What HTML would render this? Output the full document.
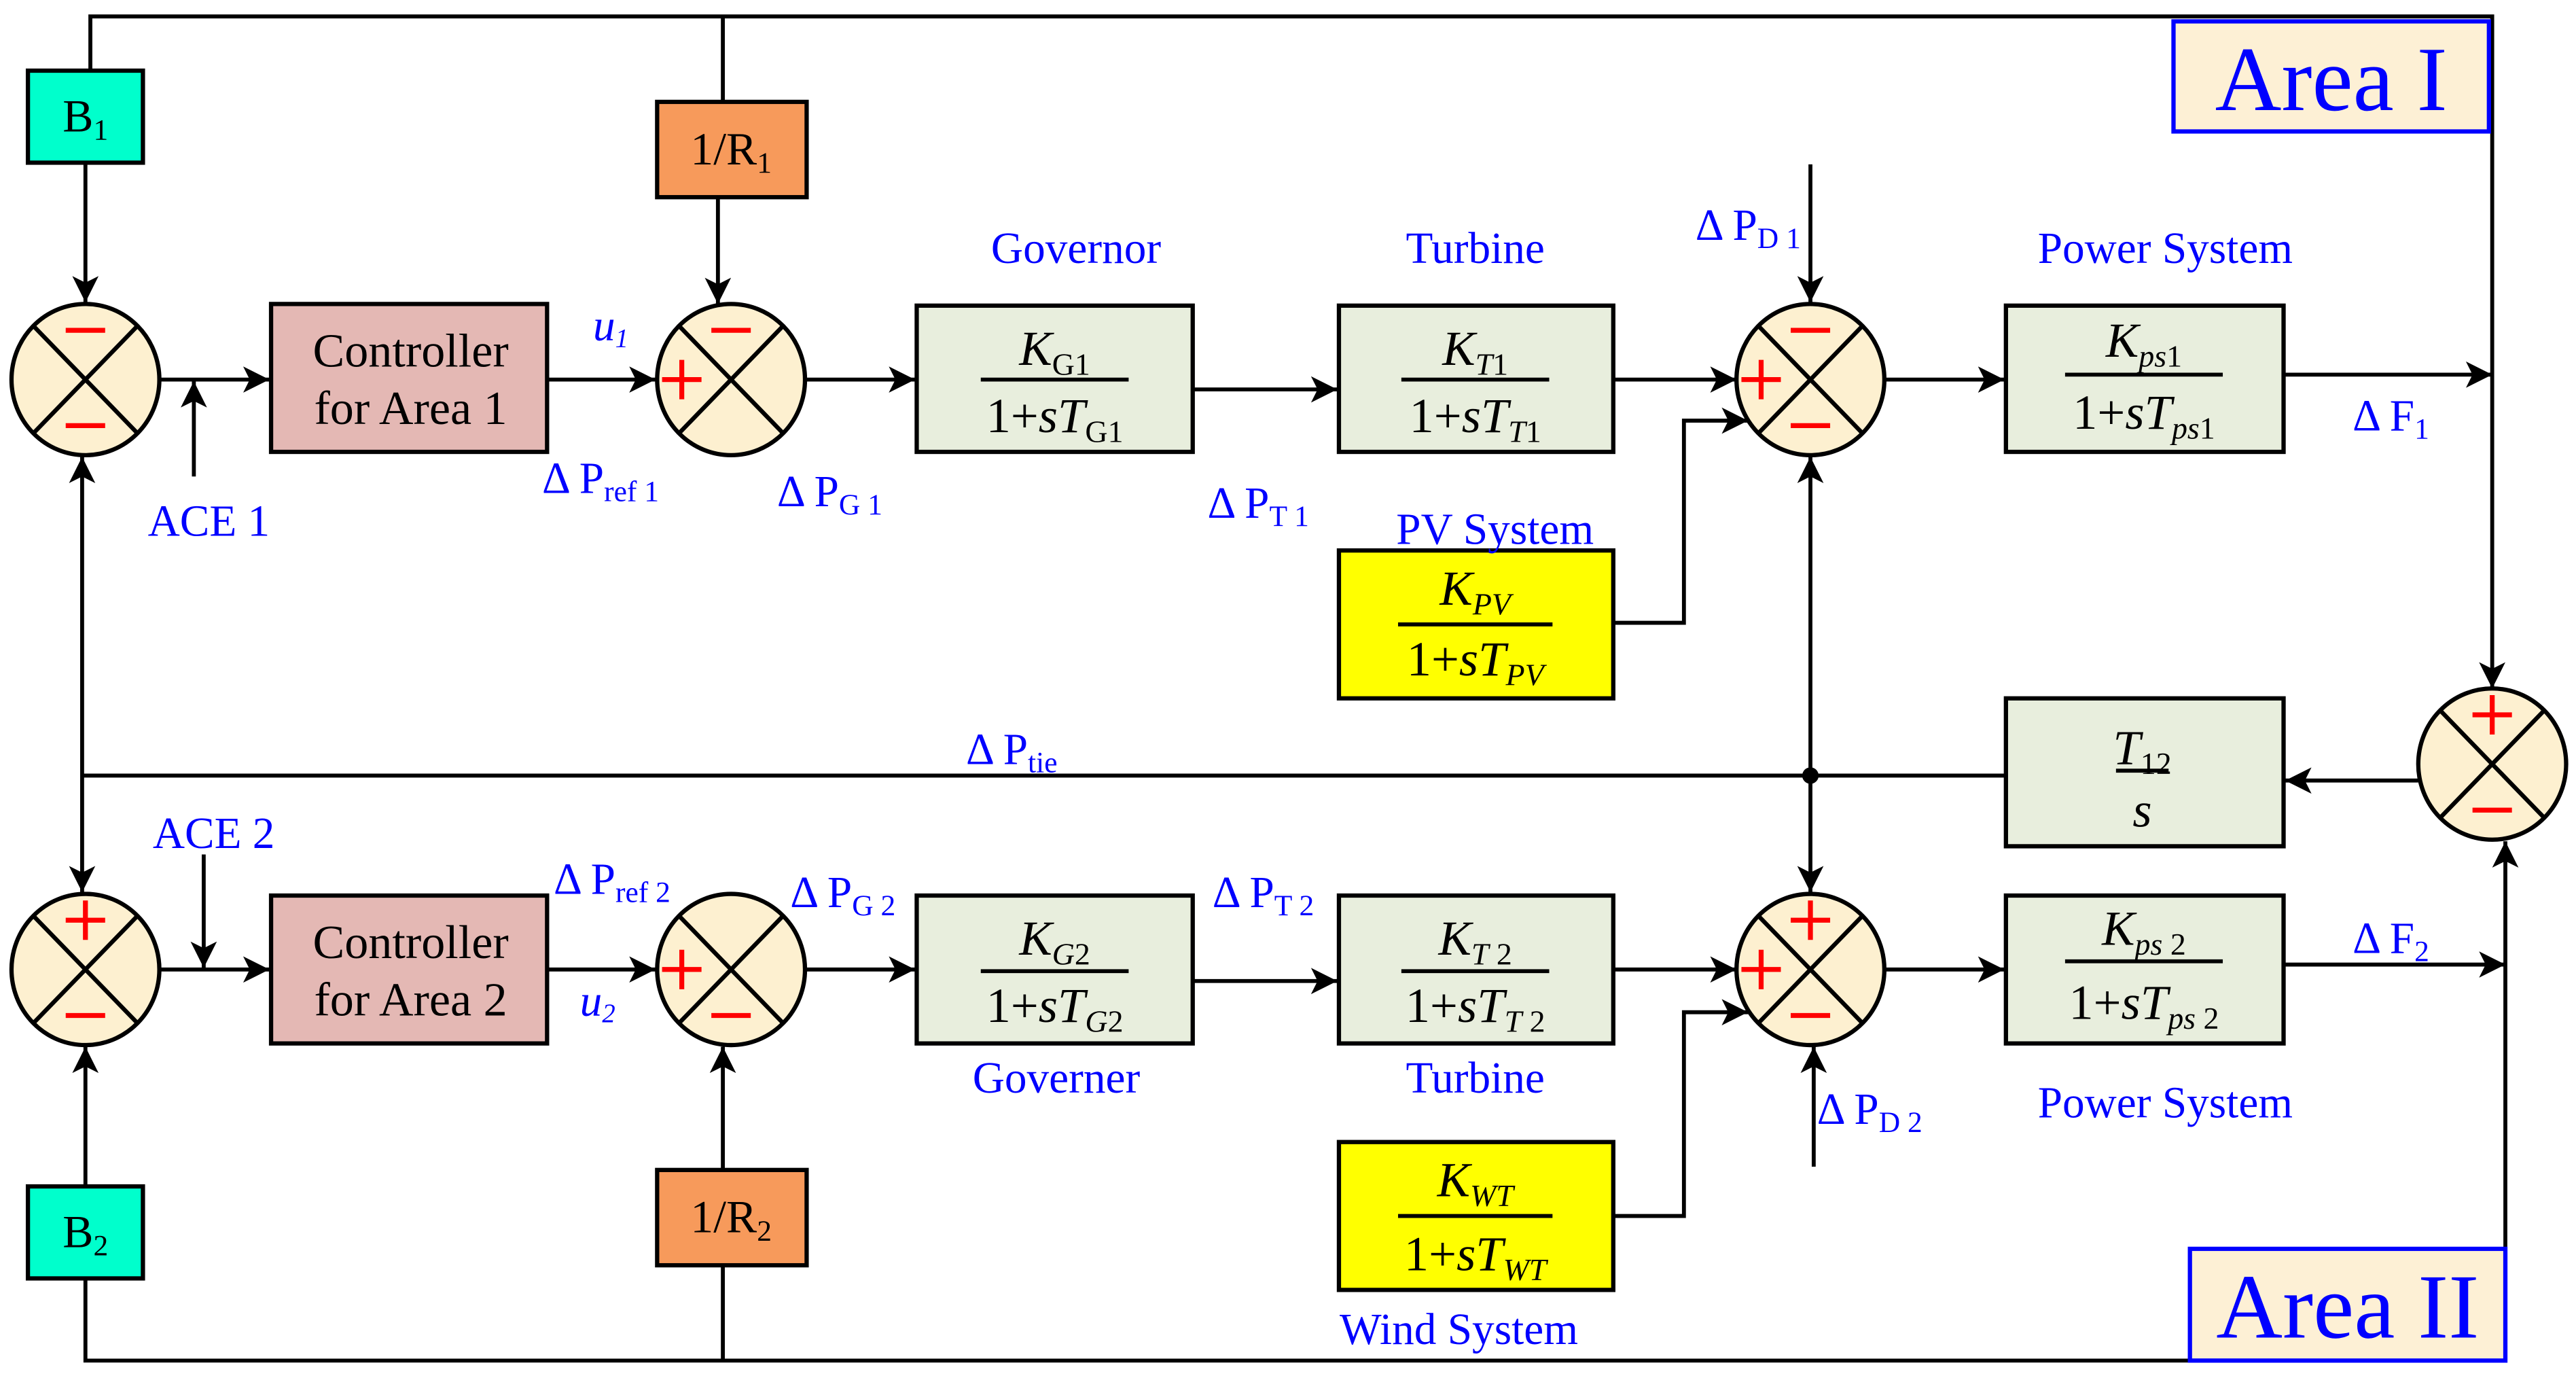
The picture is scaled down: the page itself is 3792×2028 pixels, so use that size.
<!DOCTYPE html>
<html><head><meta charset="utf-8"><style>
html,body{margin:0;padding:0;background:#fff;}
svg{display:block;}
text{font-family:"Liberation Serif",serif;}
.lb{fill:#0000ff;font-size:27px;}
.bx{stroke:#000;stroke-width:2.6;}
.ln{stroke:#000;stroke-width:2.4;fill:none;}
.mt{font-size:30px;fill:#000;}
</style></head><body>
<svg width="3792" height="2028" viewBox="0 0 1568 838.6" preserveAspectRatio="none" xmlns="http://www.w3.org/2000/svg">
<defs>
<marker id="a" markerUnits="userSpaceOnUse" markerWidth="18" markerHeight="16" refX="16" refY="8" orient="auto">
<path d="M0,0 L16,8 L0,16 L4,8 Z" fill="#000"/></marker>
<g id="sum"><ellipse cx="0" cy="0" rx="45" ry="46" fill="#fdf0d0" stroke="#000" stroke-width="2.6"/>
<line x1="-32" y1="-33" x2="32" y2="33" stroke="#000" stroke-width="2.6"/>
<line x1="32" y1="-33" x2="-32" y2="33" stroke="#000" stroke-width="2.6"/></g>
<g id="mT"><line x1="-12" y1="-30" x2="12" y2="-30" stroke="#f00" stroke-width="3"/></g>
<g id="mB"><line x1="-12" y1="28" x2="12" y2="28" stroke="#f00" stroke-width="3"/></g>
<g id="pT"><line x1="-12" y1="-30" x2="12" y2="-30" stroke="#f00" stroke-width="3"/><line x1="0" y1="-42" x2="0" y2="-18" stroke="#f00" stroke-width="3"/></g>
<g id="pL"><line x1="-42" y1="0" x2="-18" y2="0" stroke="#f00" stroke-width="3"/><line x1="-30" y1="-12" x2="-30" y2="12" stroke="#f00" stroke-width="3"/></g>
</defs>

<path class="ln" d="M55,43 V10 H1517 V419" marker-end="url(#a)"/>
<path class="ln" d="M440,10 V62"/>
<path class="ln" d="M52,99 V184" marker-end="url(#a)"/>
<path class="ln" d="M97,231 H164" marker-end="url(#a)"/>
<path class="ln" d="M118,290 V232" marker-end="url(#a)"/>
<path class="ln" d="M333,231 H399" marker-end="url(#a)"/>
<path class="ln" d="M437,120 V185" marker-end="url(#a)"/>
<path class="ln" d="M490,231 H557" marker-end="url(#a)"/>
<path class="ln" d="M726,237 H814" marker-end="url(#a)"/>
<path class="ln" d="M982,231 H1057" marker-end="url(#a)"/>
<path class="ln" d="M1102,100 V184" marker-end="url(#a)"/>
<path class="ln" d="M982,379 H1025 V256 H1064" marker-end="url(#a)"/>
<path class="ln" d="M1147,231 H1220" marker-end="url(#a)"/>
<path class="ln" d="M1390,228 H1517" marker-end="url(#a)"/>
<path class="ln" d="M1472,475 H1391" marker-end="url(#a)"/>
<path class="ln" d="M1221,472 H50"/>
<path class="ln" d="M50,472 V278" marker-end="url(#a)"/>
<path class="ln" d="M50,472 V543" marker-end="url(#a)"/>
<path class="ln" d="M1102,472 V278" marker-end="url(#a)"/>
<path class="ln" d="M1102,472 V543" marker-end="url(#a)"/>
<circle cx="1102" cy="472" r="5" fill="#000"/>
<path class="ln" d="M97,590 H164" marker-end="url(#a)"/>
<path class="ln" d="M124,520 V589" marker-end="url(#a)"/>
<path class="ln" d="M333,590 H399" marker-end="url(#a)"/>
<path class="ln" d="M440,712 V637" marker-end="url(#a)"/>
<path class="ln" d="M490,590 H557" marker-end="url(#a)"/>
<path class="ln" d="M726,597 H814" marker-end="url(#a)"/>
<path class="ln" d="M982,590 H1057" marker-end="url(#a)"/>
<path class="ln" d="M982,740 H1025 V616 H1064" marker-end="url(#a)"/>
<path class="ln" d="M1104,710 V637" marker-end="url(#a)"/>
<path class="ln" d="M1147,590 H1220" marker-end="url(#a)"/>
<path class="ln" d="M1390,587 H1525" marker-end="url(#a)"/>
<path class="ln" d="M1525,828 V512" marker-end="url(#a)"/>
<path class="ln" d="M52,722 V637" marker-end="url(#a)"/>
<path class="ln" d="M52,778 V828 H1525"/>
<path class="ln" d="M440,770 V828"/>

<use href="#sum" x="52" y="231"/><use href="#mT" x="52" y="231"/><use href="#mB" x="52" y="231"/>
<use href="#sum" x="445" y="231"/><use href="#mT" x="445" y="231"/><use href="#pL" x="445" y="231"/>
<use href="#sum" x="1102" y="231"/><use href="#mT" x="1102" y="231"/><use href="#pL" x="1102" y="231"/><use href="#mB" x="1102" y="231"/>
<use href="#sum" x="1517" y="465"/><use href="#pT" x="1517" y="465"/><use href="#mB" x="1517" y="465"/>
<use href="#sum" x="52" y="590"/><use href="#pT" x="52" y="590"/><use href="#mB" x="52" y="590"/>
<use href="#sum" x="445" y="590"/><use href="#pL" x="445" y="590"/><use href="#mB" x="445" y="590"/>
<use href="#sum" x="1102" y="590"/><use href="#pT" x="1102" y="590"/><use href="#pL" x="1102" y="590"/><use href="#mB" x="1102" y="590"/>

<rect class="bx" x="17" y="43" width="70" height="56" fill="#00ffcc"/>
<text x="52" y="80" text-anchor="middle" font-size="28">B<tspan font-size="18" dy="5">1</tspan></text>
<rect class="bx" x="17" y="722" width="70" height="56" fill="#00ffcc"/>
<text x="52" y="759" text-anchor="middle" font-size="28">B<tspan font-size="18" dy="5">2</tspan></text>
<rect class="bx" x="400" y="62" width="91" height="58" fill="#f79a5b"/>
<text x="445" y="100" text-anchor="middle" font-size="28">1/R<tspan font-size="18" dy="5">1</tspan></text>
<rect class="bx" x="400" y="712" width="91" height="58" fill="#f79a5b"/>
<text x="445" y="750" text-anchor="middle" font-size="28">1/R<tspan font-size="18" dy="5">2</tspan></text>

<rect class="bx" x="165" y="185" width="168" height="90" fill="#e4b8b4"/>
<text x="250" y="223" text-anchor="middle" font-size="29">Controller</text>
<text x="250" y="258" text-anchor="middle" font-size="29">for Area 1</text>
<rect class="bx" x="165" y="545" width="168" height="90" fill="#e4b8b4"/>
<text x="250" y="583" text-anchor="middle" font-size="29">Controller</text>
<text x="250" y="618" text-anchor="middle" font-size="29">for Area 2</text>

<g fill="#e8eedd">
<rect class="bx" x="558" y="186" width="168" height="89"/>
<rect class="bx" x="815" y="186" width="167" height="89"/>
<rect class="bx" x="1221" y="186" width="169" height="89"/>
<rect class="bx" x="1221" y="425" width="169" height="90"/>
<rect class="bx" x="558" y="545" width="168" height="90"/>
<rect class="bx" x="815" y="545" width="167" height="90"/>
<rect class="bx" x="1221" y="545" width="169" height="90"/>
</g>
<rect class="bx" x="815" y="335" width="167" height="90" fill="#ffff00"/>
<rect class="bx" x="815" y="695" width="167" height="90" fill="#ffff00"/>

<g class="mt" text-anchor="middle">
<text x="642" y="222"><tspan font-style="italic">K</tspan><tspan font-size="19" dy="6">G1</tspan></text>
<line x1="597" y1="231" x2="687" y2="231" stroke="#000" stroke-width="2.4"/>
<text x="642" y="263">1+<tspan font-style="italic">sT</tspan><tspan font-size="19" dy="6">G1</tspan></text>

<text x="898" y="222"><tspan font-style="italic">K</tspan><tspan font-size="19" dy="6" font-style="italic">T</tspan><tspan font-size="19">1</tspan></text>
<line x1="853" y1="231" x2="943" y2="231" stroke="#000" stroke-width="2.4"/>
<text x="898" y="263">1+<tspan font-style="italic">sT</tspan><tspan font-size="19" dy="6" font-style="italic">T</tspan><tspan font-size="19">1</tspan></text>

<text x="1305" y="217"><tspan font-style="italic">K</tspan><tspan font-size="19" dy="6" font-style="italic">ps</tspan><tspan font-size="19">1</tspan></text>
<line x1="1257" y1="228" x2="1353" y2="228" stroke="#000" stroke-width="2.4"/>
<text x="1305" y="261">1+<tspan font-style="italic">sT</tspan><tspan font-size="19" dy="6" font-style="italic">ps</tspan><tspan font-size="19">1</tspan></text>

<text x="898" y="368"><tspan font-style="italic">K</tspan><tspan font-size="19" dy="6" font-style="italic">PV</tspan></text>
<line x1="851" y1="380" x2="945" y2="380" stroke="#000" stroke-width="2.4"/>
<text x="898" y="411">1+<tspan font-style="italic">sT</tspan><tspan font-size="19" dy="6" font-style="italic">PV</tspan></text>

<text x="1304" y="465"><tspan font-style="italic">T</tspan><tspan font-size="19" dy="6">12</tspan></text>
<line x1="1288" y1="469" x2="1320" y2="469" stroke="#000" stroke-width="2.4"/>
<text x="1304" y="503" font-style="italic">s</text>

<text x="642" y="581"><tspan font-style="italic">K</tspan><tspan font-size="19" dy="6" font-style="italic">G</tspan><tspan font-size="19">2</tspan></text>
<line x1="597" y1="591" x2="687" y2="591" stroke="#000" stroke-width="2.4"/>
<text x="642" y="622">1+<tspan font-style="italic">sT</tspan><tspan font-size="19" dy="6" font-style="italic">G</tspan><tspan font-size="19">2</tspan></text>

<text x="898" y="581"><tspan font-style="italic">K</tspan><tspan font-size="19" dy="6" font-style="italic">T</tspan><tspan font-size="19"> 2</tspan></text>
<line x1="853" y1="591" x2="943" y2="591" stroke="#000" stroke-width="2.4"/>
<text x="898" y="622">1+<tspan font-style="italic">sT</tspan><tspan font-size="19" dy="6" font-style="italic">T</tspan><tspan font-size="19"> 2</tspan></text>

<text x="1305" y="575"><tspan font-style="italic">K</tspan><tspan font-size="19" dy="6" font-style="italic">ps</tspan><tspan font-size="19"> 2</tspan></text>
<line x1="1257" y1="585" x2="1353" y2="585" stroke="#000" stroke-width="2.4"/>
<text x="1305" y="620">1+<tspan font-style="italic">sT</tspan><tspan font-size="19" dy="6" font-style="italic">ps</tspan><tspan font-size="19"> 2</tspan></text>

<text x="898" y="728"><tspan font-style="italic">K</tspan><tspan font-size="19" dy="6" font-style="italic">WT</tspan></text>
<line x1="851" y1="740" x2="945" y2="740" stroke="#000" stroke-width="2.4"/>
<text x="898" y="773">1+<tspan font-style="italic">sT</tspan><tspan font-size="19" dy="6" font-style="italic">WT</tspan></text>
</g>

<g class="lb">
<text x="655" y="160" text-anchor="middle">Governor</text>
<text x="898" y="160" text-anchor="middle">Turbine</text>
<text x="1318" y="160" text-anchor="middle">Power System</text>
<text x="1032" y="146">Δ P<tspan font-size="18" dy="5">D 1</tspan></text>
<text x="361" y="207" font-style="italic">u<tspan font-size="16" dy="4">1</tspan></text>
<text x="90" y="326">ACE 1</text>
<text x="330" y="300">Δ P<tspan font-size="18" dy="5">ref 1</tspan></text>
<text x="473" y="308">Δ P<tspan font-size="18" dy="5">G 1</tspan></text>
<text x="735" y="315">Δ P<tspan font-size="18" dy="5">T 1</tspan></text>
<text x="910" y="331" text-anchor="middle">PV System</text>
<text x="1432" y="262">Δ F<tspan font-size="18" dy="5">1</tspan></text>
<text x="588" y="465">Δ P<tspan font-size="18" dy="5">tie</tspan></text>
<text x="93" y="516">ACE 2</text>
<text x="337" y="544">Δ P<tspan font-size="18" dy="5">ref 2</tspan></text>
<text x="353" y="618" font-style="italic">u<tspan font-size="16" dy="4">2</tspan></text>
<text x="481" y="552">Δ P<tspan font-size="18" dy="5">G 2</tspan></text>
<text x="738" y="552">Δ P<tspan font-size="18" dy="5">T 2</tspan></text>
<text x="643" y="665" text-anchor="middle">Governer</text>
<text x="898" y="665" text-anchor="middle">Turbine</text>
<text x="1106" y="684">Δ P<tspan font-size="18" dy="5">D 2</tspan></text>
<text x="1318" y="680" text-anchor="middle">Power System</text>
<text x="1432" y="580">Δ F<tspan font-size="18" dy="5">2</tspan></text>
<text x="888" y="818" text-anchor="middle">Wind System</text>
</g>

<rect x="1323" y="13" width="192" height="67" fill="#fdf0d5" stroke="#0000ff" stroke-width="2.6"/>
<text x="1419" y="67" text-anchor="middle" font-size="56" fill="#0000ff">Area I</text>
<rect x="1333" y="760" width="192" height="68" fill="#fdf0d5" stroke="#0000ff" stroke-width="2.6"/>
<text x="1429" y="814" text-anchor="middle" font-size="56" fill="#0000ff">Area II</text>
</svg>
</body></html>
